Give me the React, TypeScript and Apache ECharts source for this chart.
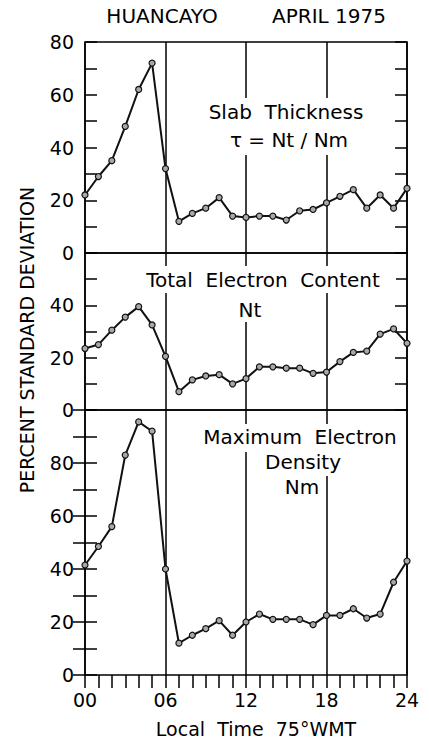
import React, { useEffect, useRef } from "react";
import * as echarts from "echarts";

const hours = [0, 1, 2, 3, 4, 5, 6, 7, 8, 9, 10, 11, 12, 13, 14, 15, 16, 17, 18, 19, 20, 21, 22, 23, 24];
const slabThickness = [22, 29, 35, 48, 62, 72, 32, 12, 15, 17, 21, 14, 13.5, 14, 14, 12.5, 16, 16.5, 19, 21.5, 24, 17, 22, 17, 24.5];
const totalElectronContent = [23.5, 25, 30.5, 35.5, 39.5, 32.5, 20.5, 7, 11.5, 13, 13.5, 10, 12, 16.5, 16.5, 16, 16, 14, 14.5, 18.5, 22, 22.5, 29, 31, 25.5];
const maxElectronDensity = [41.5, 48.5, 56, 83, 95.5, 92, 40, 12, 15, 17.5, 20.5, 15, 20, 23, 21, 21, 21, 19, 22.5, 22.5, 25, 21.5, 23, 35, 43];
const panelMax = [80, 60, 100];
const xTickLabels = ["00", "06", "12", "18", "24"];

const FONT = "DejaVu Sans";

export default function App() {
  const ref = useRef<HTMLDivElement>(null);
  useEffect(() => {
    if (!ref.current) return;
    const chart = echarts.init(ref.current, null, { renderer: "svg" });
    const grids = [
      { left: 85, right: 22, top: 42, height: 211 },
      { left: 85, right: 22, top: 253, height: 157 },
      { left: 85, right: 22, top: 410, height: 265 },
    ].map((g) => ({ ...g, show: true, borderColor: "#000", borderWidth: 1.5, backgroundColor: "transparent" }));

    const xAxes: any[] = [0, 1, 2].map((i) => ({
      type: "value",
      gridIndex: i,
      min: 0,
      max: 24,
      interval: 6,
      axisLine: { show: false },
      axisTick: { show: false },
      splitLine: { show: true, lineStyle: { color: "#000", width: 1.5 } },
      axisLabel: {
        show: i === 2,
        margin: 15,
        fontSize: 19,
        fontFamily: FONT,
        color: "#000",
        formatter: (v: number) => xTickLabels[Math.round(v / 6)] ?? "",
      },
    }));
    xAxes.push({
      type: "value",
      gridIndex: 2,
      min: 0,
      max: 24,
      interval: 1,
      axisLine: { show: false },
      axisTick: { show: true, inside: true, length: 13, lineStyle: { color: "#000", width: 1.5 } },
      splitLine: { show: false },
      axisLabel: { show: false },
    });

    const yAxes: any[] = [];
    [0, 1, 2].forEach((i) => {
      const max = panelMax[i];
      yAxes.push({
        type: "value",
        gridIndex: i,
        min: 0,
        max,
        interval: 10,
        position: "left",
        axisLine: { show: false },
        axisTick: { show: true, inside: true, length: 12, lineStyle: { color: "#000", width: 1.5 } },
        splitLine: { show: false },
        axisLabel: {
          margin: 11,
          fontSize: 19,
          fontFamily: FONT,
          color: "#000",
          formatter: (v: number) => (v % 20 === 0 && (i === 0 || v !== max) ? String(v) : ""),
        },
      });
      yAxes.push({
        type: "value",
        gridIndex: i,
        min: 0,
        max,
        interval: 10,
        position: "right",
        axisLine: { show: false },
        axisTick: { show: true, inside: true, length: 12, lineStyle: { color: "#000", width: 1.5 } },
        splitLine: { show: false },
        axisLabel: { show: false },
      });
    });

    const seriesData = [slabThickness, totalElectronContent, maxElectronDensity];
    const series = seriesData.map((vals, i) => ({
      type: "line",
      xAxisIndex: i,
      yAxisIndex: i * 2,
      data: hours.map((h, k) => [h, vals[k]]),
      symbol: "circle",
      symbolSize: 6,
      z: 20,
      lineStyle: { color: "#111", width: 2 },
      itemStyle: { color: "#a8a8a8", borderColor: "#111", borderWidth: 1.2 },
    }));

    const txt = (text: string, x: number, y: number, size = 19, extra: any = {}) => ({
      type: "text",
      x,
      y,
      z: 30,
      ...extra,
      style: {
        text,
        fontSize: size,
        fontFamily: FONT,
        fill: "#000",
        align: "center",
        verticalAlign: "middle",
        textAlign: "center",
        textVerticalAlign: "middle",
      },
    });
    const box = (x1: number, y1: number, x2: number, y2: number) => ({
      type: "rect",
      z: 25,
      shape: { x: x1, y: y1, width: x2 - x1, height: y2 - y1 },
      style: { fill: "#fff" },
    });

    chart.setOption({
      animation: false,
      backgroundColor: "#fff",
      grid: grids,
      xAxis: xAxes,
      yAxis: yAxes,
      series,
      graphic: [
        txt("HUANCAYO", 162, 16, 20),
        txt("APRIL 1975", 329, 16, 20),
        txt("PERCENT STANDARD DEVIATION", 27, 340, 19, { rotation: Math.PI / 2 }),
        txt("Local  Time  75°WMT", 256, 729),
        box(192, 98, 381, 155),
        txt("Slab  Thickness", 286, 112, 20),
        txt("τ = Nt / Nm", 289, 140, 20),
        box(128, 266, 396, 293),
        txt("Total  Electron  Content", 263, 280, 20),
        box(238, 290, 262, 322),
        txt("Nt", 250, 310, 20),
        box(190, 424, 406, 452),
        txt("Maximum  Electron", 300, 437, 20),
        box(258, 450, 349, 476),
        txt("Density", 303, 462, 20),
        txt("Nm", 302, 487, 20),
      ],
    });
    return () => chart.dispose();
  }, []);
  return <div ref={ref} style={{ position: "absolute", left: 0, top: 0, width: 429, height: 744 }} />;
}
